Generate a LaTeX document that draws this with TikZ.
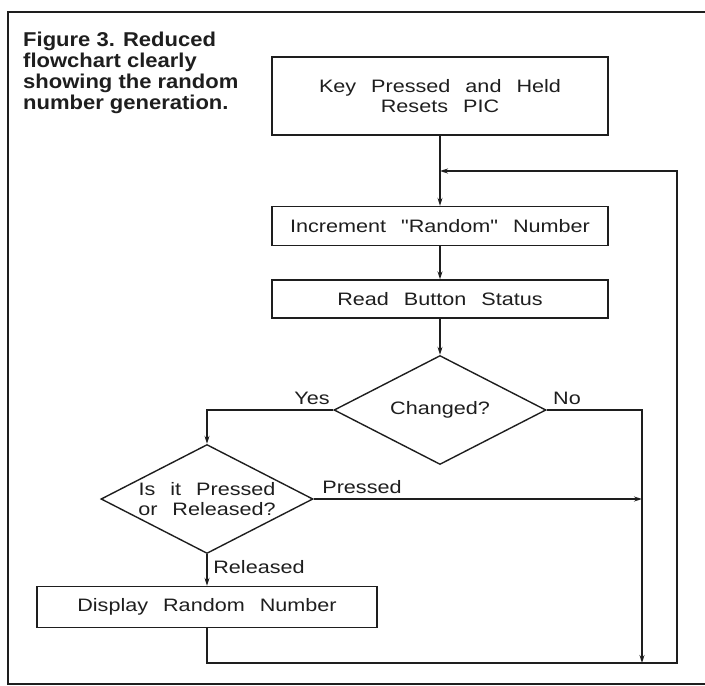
\documentclass[tikz,border=0pt]{standalone}
\usepackage{fontspec}
\setmainfont{Liberation Sans}
\newfontfamily\plotfont[FakeStretch=1.2,WordSpace=2.5]{Liberation Sans}
\newfontfamily\legendfont[FakeStretch=1.1]{Liberation Sans}
\newcommand{\flowtxt}{\plotfont\fontsize{18}{20}\selectfont}
\usetikzlibrary{arrows.meta,shapes.geometric,positioning}
\definecolor{trait}{HTML}{1E1E1E}

\begin{document}
\begin{tikzpicture}[x=1pt,y=-1pt,
  cadre/.style={draw=trait,line width=1.8pt},
  boite/.style={draw=trait,line width=1.4pt,rectangle,minimum width=336pt,inner sep=0pt,align=center,font=\flowtxt,text=trait},
  losange/.style={draw=trait,line width=1.4pt,diamond,aspect=2,minimum width=212pt,minimum height=109pt,inner sep=0pt,align=center,font=\flowtxt,text=trait},
  etiq/.style={inner sep=0pt,font=\flowtxt,text=trait},
  fleche/.style={draw=trait,line width=1.2pt,-{Stealth[length=8pt,width=5pt]}}]
\useasboundingbox (0,0) rectangle (705,686);
% Cadre
\draw[cadre] (705,12) -- (8,12) -- (8,684) -- (705,684);
% Legende
\node[anchor=north west,inner sep=0pt,align=left,text=trait,
  font=\legendfont\bfseries\fontsize{20}{21}\selectfont] (titre) at (23,32)
  {Figure 3. Reduced\\flowchart clearly\\showing the random\\number generation.};
% Boites
\node[boite,minimum height=78pt] (cle) at (440,96) {Key Pressed and Held\\Resets PIC};
\node[boite,minimum height=39pt] (incr) at (440,226) {Increment "Random" Number};
\node[boite,minimum height=38pt] (lect) at (440,299) {Read Button Status};
% Tests
\node[losange] (chg) at (440,410) {Changed?};
\node[losange] (etat) at (207,499) {Is it Pressed\\or Released?};
\node[boite,minimum width=340pt,minimum height=41pt] (aff) at (207,607) {Display Random Number};
% Etiquettes
\node[etiq] (oui) at (312,398) {Yes};
\node[etiq] (non) at (567,398) {No};
\node[etiq] (presse) at (362,487) {Pressed};
\node[etiq] (relache) at (259,567) {Released};
% Points de passage
\coordinate (jonc) at (440,171);
\coordinate (droite) at (677,663);
\coordinate (bas) at (642,663);
% Liaisons
\draw[fleche] (cle) -- (incr);
\draw[fleche] (incr) -- (lect);
\draw[fleche] (lect) -- (chg);
\draw[fleche] (chg.west) -| (etat.north);
\draw[fleche] (chg.east) -| (bas);
\draw[fleche] (etat.east) -- (etat.east -| bas);
\draw[fleche] (etat.south) -- (aff.north);
\draw[fleche] (aff.south) |- (droite) |- (jonc);
\end{tikzpicture}
\end{document}
